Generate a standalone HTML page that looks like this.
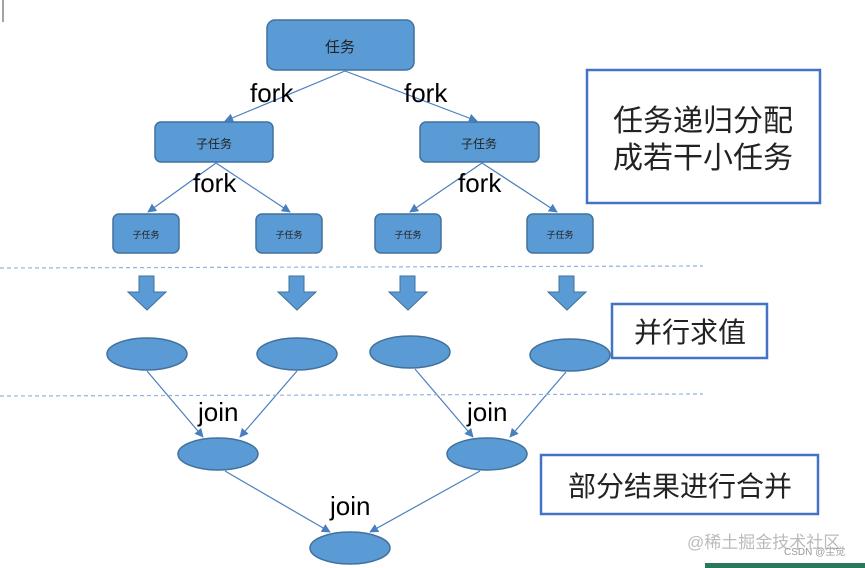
<!DOCTYPE html>
<html><head><meta charset="utf-8"><style>
html,body{margin:0;padding:0;background:#fff;width:865px;height:568px;overflow:hidden}
svg text{font-family:"Liberation Sans","Noto Sans CJK SC",sans-serif}
</style></head><body>
<svg width="865" height="568" viewBox="0 0 865 568" xmlns="http://www.w3.org/2000/svg">
<defs>
<marker id="a" viewBox="0 0 10 10" refX="9" refY="5" markerWidth="9" markerHeight="9" orient="auto" markerUnits="userSpaceOnUse"><path d="M0,0 L10,5 L0,10 z" fill="#4a7fbf"/></marker>
</defs>
<line x1="3" y1="0" x2="3" y2="22" stroke="#444" stroke-width="1"/>
<g fill="#5b9bd5" stroke="#41719c" stroke-width="1.5">
<rect x="267" y="20" width="147" height="50" rx="8"/>
<rect x="155" y="122" width="118" height="40" rx="6"/>
<rect x="420" y="122" width="119" height="40" rx="6"/>
<rect x="113" y="214" width="66" height="39" rx="6"/>
<rect x="256" y="214" width="66" height="39" rx="6"/>
<rect x="375" y="214" width="66" height="39" rx="6"/>
<rect x="527" y="214" width="66" height="39" rx="6"/>
<ellipse cx="147" cy="354" rx="40" ry="16"/>
<ellipse cx="297" cy="354" rx="40" ry="16"/>
<ellipse cx="410" cy="352" rx="40" ry="16"/>
<ellipse cx="570" cy="355" rx="40" ry="16"/>
<ellipse cx="218" cy="454" rx="40" ry="16"/>
<ellipse cx="487" cy="454" rx="40" ry="16"/>
<ellipse cx="350" cy="548" rx="40" ry="16"/>
</g>
<g fill="#5b9bd5" stroke="#41719c" stroke-width="1">
<path d="M139,276 h15 v16 h12 l-19,18 l-19,-18 h11 z"/>
<path d="M289,276 h15 v16 h12 l-19,18 l-19,-18 h11 z"/>
<path d="M400,276 h15 v16 h12 l-19,18 l-19,-18 h11 z"/>
<path d="M559,276 h15 v16 h12 l-19,18 l-19,-18 h11 z"/>
</g>
<g stroke="#4a7fbf" stroke-width="1.2" marker-end="url(#a)">
<line x1="345" y1="71" x2="225" y2="121"/>
<line x1="345" y1="71" x2="477" y2="121"/>
<line x1="216" y1="163" x2="148" y2="212"/>
<line x1="216" y1="163" x2="290" y2="212"/>
<line x1="482" y1="163" x2="410" y2="212"/>
<line x1="482" y1="163" x2="557" y2="212"/>
<line x1="147" y1="371" x2="203" y2="437"/>
<line x1="297" y1="371" x2="240" y2="437"/>
<line x1="415" y1="369" x2="473" y2="437"/>
<line x1="566" y1="372" x2="510" y2="437"/>
<line x1="225" y1="471" x2="330" y2="532"/>
<line x1="480" y1="471" x2="370" y2="532"/>
</g>
<g stroke="#8fb4de" stroke-width="1.2" stroke-dasharray="4,3">
<line x1="0" y1="268" x2="703" y2="266"/>
<line x1="0" y1="396" x2="703" y2="394"/>
</g>
<g fill="none" stroke="#4472c4" stroke-width="2.5">
<rect x="587" y="70" width="233" height="133"/>
<rect x="612" y="304" width="155" height="54"/>
<rect x="541" y="455" width="277" height="59"/>
</g>
<g font-size="26" fill="#000">
<text x="250" y="102">fork</text>
<text x="404" y="102">fork</text>
<text x="193" y="192">fork</text>
<text x="458" y="192">fork</text>
<text x="198" y="421">join</text>
<text x="467" y="421">join</text>
<text x="330" y="515">join</text>
</g>
<g fill="#222" text-anchor="middle">
<text x="340" y="52" font-size="15">任务</text>
<text x="214" y="148" font-size="12">子任务</text>
<text x="479" y="148" font-size="12">子任务</text>
<text x="146" y="238" font-size="9">子任务</text>
<text x="289" y="238" font-size="9">子任务</text>
<text x="408" y="238" font-size="9">子任务</text>
<text x="560" y="238" font-size="9">子任务</text>
</g>
<g fill="#222" font-size="30" text-anchor="middle">
<text x="703" y="131">任务递归分配</text>
<text x="703" y="168">成若干小任务</text>
<text x="690" y="342" font-size="28">并行求值</text>
<text x="680" y="496" font-size="28">部分结果进行合并</text>
</g>
<text x="687" y="548" font-size="17" fill="#bbb">@稀土掘金技术社区</text>
<text x="784" y="555" font-size="10" fill="#999">CSDN @尘觉</text>
<rect x="705" y="563" width="160" height="5" fill="#2a7a5a"/>
</svg>
</body></html>
